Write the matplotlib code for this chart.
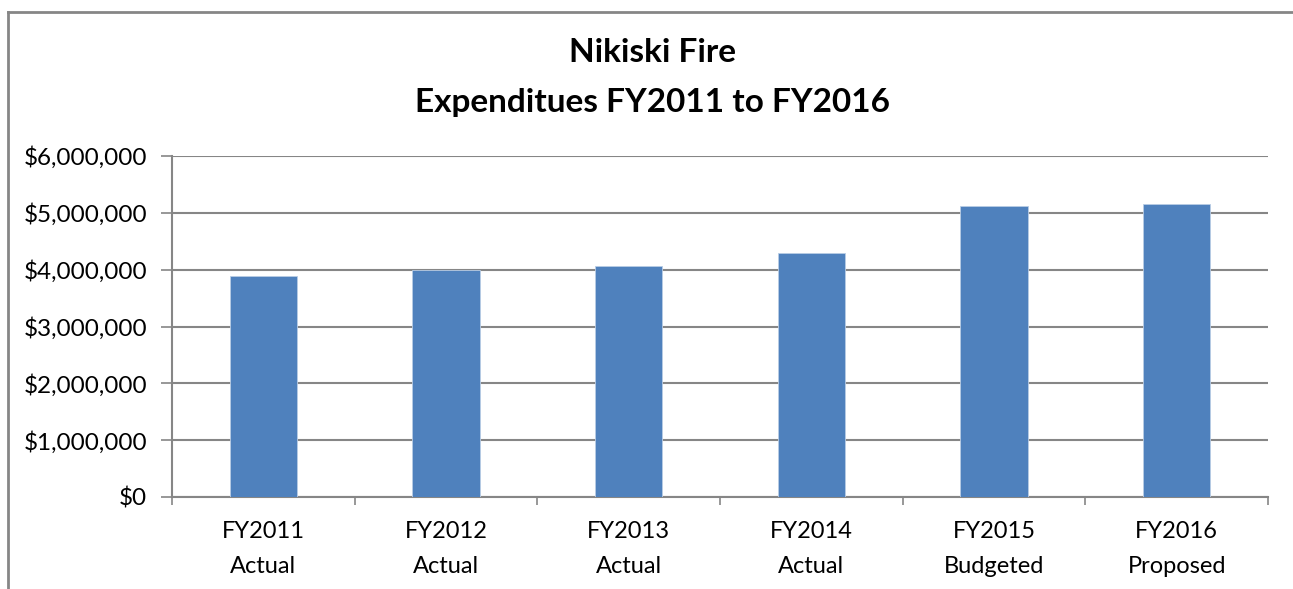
import matplotlib
matplotlib.use("Agg")
import matplotlib.pyplot as plt
from matplotlib.lines import Line2D
from matplotlib.ticker import FuncFormatter, MultipleLocator

years = ["FY2011", "FY2012", "FY2013", "FY2014", "FY2015", "FY2016"]
kinds = ["Actual", "Actual", "Actual", "Actual", "Budgeted", "Proposed"]
spent = [3880000, 3995000, 4070000, 4290000, 5120000, 5150000]

plt.rcParams['font.family'] = ['Lato', 'DejaVu Sans']

W, H = 1293, 589
fig = plt.figure(figsize=(W / 100, H / 100), dpi=100)
ax = fig.add_axes([172 / W, 1 - 497 / H, (1268 - 172) / W, (497 - 156) / H])

grid_col = '#868686'
x = range(len(years))
ax.bar(x, spent, width=0.37, color='#4F81BD', edgecolor='#B9CDE5', linewidth=0.6, zorder=3)

ax.set_xlim(-0.5, len(years) - 0.5)
ax.set_ylim(0, 6000000)
ax.yaxis.set_major_locator(MultipleLocator(1000000))
ax.yaxis.set_major_formatter(FuncFormatter(lambda v, p: "${:,.0f}".format(v)))
ax.grid(axis='y', color=grid_col, linewidth=1.5, zorder=0)

ax.set_xticks([i - 0.5 for i in range(len(years) + 1)], minor=False)
ax.set_xticklabels([])
ax.set_xticks(list(x), minor=True)
ax.set_xticklabels([f"{y}\n{k}" for y, k in zip(years, kinds)], minor=True, fontsize=17, linespacing=1.85)
ax.tick_params(axis='x', which='major', length=6, width=1.2, color=grid_col)
ax.tick_params(axis='x', which='minor', length=0, pad=17)
ax.tick_params(axis='y', length=8, width=1.2, color=grid_col, labelsize=17.5, pad=10)

for side in ['top', 'right']:
    ax.spines[side].set_visible(False)
for side in ['left', 'bottom']:
    ax.spines[side].set_color(grid_col)
    ax.spines[side].set_linewidth(1.5)

fig.text(653 / W, 1 - 62 / H, "Nikiski Fire", ha='center', va='baseline', fontsize=24, fontweight='bold')
fig.text(653 / W, 1 - 112 / H, "Expenditues FY2011 to FY2016", ha='center', va='baseline', fontsize=24, fontweight='bold')

# outer chart border (left and top visible)
fig.add_artist(Line2D([8 / W, 8 / W], [0, 1 - 12 / H], transform=fig.transFigure, color=grid_col, linewidth=2))
fig.add_artist(Line2D([8 / W, 1], [1 - 12 / H, 1 - 12 / H], transform=fig.transFigure, color=grid_col, linewidth=2))

fig.savefig("out.png", dpi=100, facecolor='white')
